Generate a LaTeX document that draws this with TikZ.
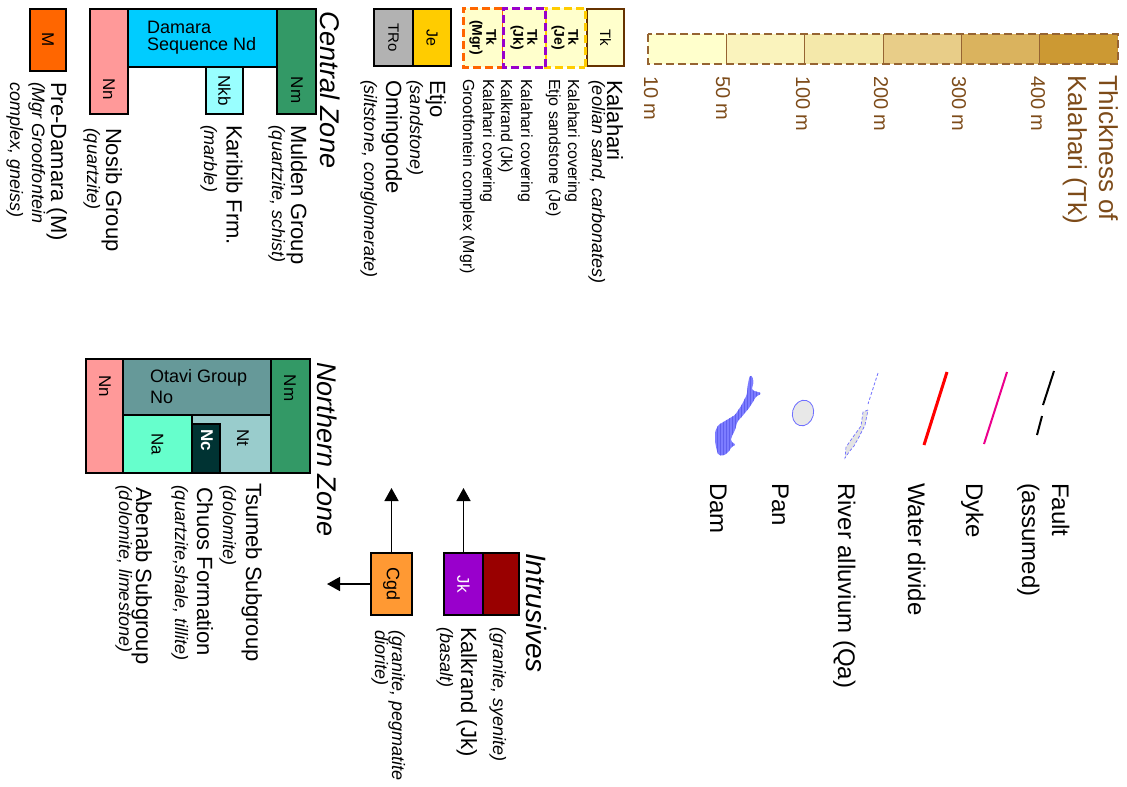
\documentclass[tikz,border=0pt]{standalone}
\usepackage{fontspec}
\setmainfont{Liberation Sans}
\usetikzlibrary{arrows.meta,patterns}

\definecolor{kal1}{HTML}{FFFFCC}
\definecolor{kal2}{HTML}{FAF3BD}
\definecolor{kal3}{HTML}{F4E8AA}
\definecolor{kal4}{HTML}{E8CD88}
\definecolor{kal5}{HTML}{DAB35E}
\definecolor{kal6}{HTML}{CC9933}
\definecolor{kbrown}{RGB}{125,75,25}
\definecolor{barline}{RGB}{150,100,50}
\definecolor{tkedge}{HTML}{663300}
\definecolor{coverJe}{HTML}{FFCC00}
\definecolor{coverJk}{HTML}{9900CC}
\definecolor{coverMgr}{HTML}{FF6600}
\definecolor{cJe}{HTML}{FFCC00}
\definecolor{cTRo}{HTML}{B2B2B2}
\definecolor{cM}{HTML}{FF6600}
\definecolor{cNn}{HTML}{FF9999}
\definecolor{cNd}{HTML}{00CCFF}
\definecolor{cNkb}{HTML}{99FFFF}
\definecolor{cNm}{HTML}{339966}
\definecolor{cCgd}{HTML}{FF9933}
\definecolor{cJk}{HTML}{9900CC}
\definecolor{cSy}{HTML}{990000}
\definecolor{cNo}{HTML}{669999}
\definecolor{cNa}{HTML}{66FFCC}
\definecolor{cNt}{HTML}{99CCCC}
\definecolor{cNc}{HTML}{003333}
\definecolor{water}{HTML}{6F6FFF}
\definecolor{damfill}{HTML}{7C7CFF}
\definecolor{damhatch}{HTML}{5F5FEE}

\begin{document}
\begin{tikzpicture}[x=1pt, y=-1pt,
  lbl/.style={rotate=-90, anchor=base west, inner sep=0pt, outer sep=0pt,
    font=\fontsize{22}{26}\selectfont},
  note/.style={lbl, font=\fontsize{18}{21}\selectfont\itshape},
  fine/.style={lbl, font=\fontsize{16}{19}\selectfont},
  legtext/.style={lbl, font=\fontsize{24}{28}\selectfont},
  zone/.style={lbl, font=\fontsize{27}{32}\selectfont\itshape},
  scaletext/.style={lbl, text=kbrown, font=\fontsize{20}{24}\selectfont},
  flatbox/.style={draw, line width=1.5pt, inner sep=0pt, outer sep=0pt},
  unit/.style={flatbox, rotate=-90, font=\fontsize{17}{19}\selectfont},
  tag/.style={rotate=-90, inner sep=0pt, font=\fontsize{17}{19}\selectfont},
  flattext/.style={anchor=base west, inner sep=0pt, font=\fontsize{18}{21}\selectfont},
  cover/.style={unit, fill=kal1, line width=3pt, dash pattern=on 8pt off 4pt,
    align=center, font=\fontsize{14}{14}\selectfont\bfseries},
  arr/.style={line width=1.5pt, -{Triangle[length=13pt, width=14pt]}},
]
\useasboundingbox (0,0) rectangle (1127,787);

% ---------- thickness scale of the Kalahari cover ----------
\foreach \i/\c in {0/kal1,1/kal2,2/kal3,3/kal4,4/kal5,5/kal6}
  \fill[\c] ({648+78.33*\i},34) rectangle ({648+78.33*(\i+1)},64);
\foreach \i in {1,...,5}
  \draw[barline, line width=0.8pt] ({648+78.33*\i},34) -- ({648+78.33*\i},64);
\draw[barline, line width=2pt, dash pattern=on 8pt off 4pt] (648,34) rectangle (1118,64);

\node[scaletext] (s10)  at (644,76) {10 m};
\node[scaletext] (s50)  at (716,76) {50 m};
\node[scaletext] (s100) at (796,76) {100 m};
\node[scaletext] (s200) at (874,76) {200 m};
\node[scaletext] (s300) at (952,76) {300 m};
\node[scaletext] (s400) at (1031,76) {400 m};
\node[lbl, text=kbrown, font=\fontsize{26}{30}\selectfont] (ttlA) at (1099,75) {Thickness of};
\node[lbl, text=kbrown, font=\fontsize{26}{30}\selectfont] (ttlB) at (1068,75) {Kalahari (Tk)};

% ---------- Kalahari and its coverings ----------
\node[unit, fill=kal1, draw=tkedge, minimum width=57pt, minimum height=37pt,
  font=\fontsize{15}{17}\selectfont] (tk) at (605.5,37.5) {Tk};
\node[cover, draw=coverJe, minimum width=59pt, minimum height=40pt] (tkje) at (565,37.5) {Tk\\(Je)};
\node[cover, draw=coverMgr, minimum width=59pt, minimum height=40pt] (tkmgr) at (483,37.5) {Tk\\(Mgr)};
\node[cover, draw=coverJk, minimum width=59pt, minimum height=42pt] (tkjk) at (524,37.5) {Tk\\(Jk)};

\node[lbl]  (kal)    at (607,80) {Kalahari};
\node[note] (kalN)   at (592,80) {(eolian sand, carbonates)};
\node[fine] (covA1)  at (568,79) {Kalahari covering};
\node[fine] (covA2)  at (549,79) {Etjo sandstone (Je)};
\node[fine] (covB1)  at (521,79) {Kalahari covering};
\node[fine] (covB2)  at (501,79) {Kalkrand (Jk)};
\node[fine] (covC1)  at (483,79) {Kalahari covering};
\node[fine] (covC2)  at (463,79) {Grootfontein complex (Mgr)};

% ---------- Karoo ----------
\node[unit, fill=cJe, minimum width=57pt, minimum height=38pt, font=\fontsize{16}{18}\selectfont] (je) at (432,37.5) {Je};
\node[unit, fill=cTRo, minimum width=57pt, minimum height=39pt, font=\fontsize{15}{17}\selectfont] (tro) at (393.5,37.5) {TRo};
\node[lbl]  (etjo)  at (430,80) {Etjo};
\node[note] (etjoN) at (410,80) {(sandstone)};
\node[lbl]  (omi)   at (386,80) {Omingonde};
\node[note] (omiN)  at (364,80) {(siltstone, conglomerate)};

% ---------- Central Zone ----------
\node[zone] (cz) at (320,12) {Central Zone};
\node[unit, fill=cNm, minimum width=105pt, minimum height=39pt] (nmc) at (296.5,61.5) {};
\node[tag] (nmcT) at (297,90) {Nm};
\node[flatbox, fill=cNd, minimum width=149pt, minimum height=58pt] (nd) at (202.5,38) {};
\node[flattext] (ndA) at (147,33) {Damara};
\node[flattext] (ndB) at (147,50) {Sequence Nd};
\node[unit, fill=cNkb, minimum width=47pt, minimum height=37pt] (nkb) at (224.5,90.5) {Nkb};
\node[unit, fill=cNn, minimum width=105pt, minimum height=38pt] (nnc) at (109,61.5) {};
\node[tag] (nncT) at (109,89) {Nn};
\node[unit, fill=cM, minimum width=62pt, minimum height=36pt] (m) at (48,40) {M};

\node[lbl]  (mul)   at (291,125) {Mulden Group};
\node[note] (mulN)  at (272,125) {(quartzite, schist)};
\node[lbl]  (kar)   at (226.5,125) {Karibib Frm.};
\node[note] (karN)  at (204,125) {(marble)};
\node[lbl]  (nos)   at (106,128) {Nosib Group};
\node[note] (nosN)  at (87,128) {(quartzite)};
\node[lbl]  (pre)   at (51,82) {Pre-Damara (M)};
\node[note] (preN1) at (32,82) {(Mgr Grootfontein};
\node[note] (preN2) at (10,82) {complex, gneiss)};

% ---------- map line symbols ----------
\draw[line width=2pt] (1054,371) -- (1043,405);
\draw[line width=2pt] (1042,416) -- (1037,435);
\draw[magenta, line width=2pt] (1007,372) -- (984,444);
\draw[red, line width=3pt] (947,372) -- (924,445);
\draw[water, line width=0.8pt, dash pattern=on 3pt off 2pt] (878,373) -- (868,404);
\draw[water, line width=0.7pt, dash pattern=on 3pt off 2pt, fill=gray!22]
  (868,410) -- (863,412) -- (861,426) -- (853,437) -- (846,447) -- (845,458)
  -- (849,452) -- (854,446) -- (859,437) -- (865,425) -- cycle;
\draw[water, line width=0.8pt, fill=gray!18, rotate around={-15:(803,413)}]
  (803,413) ellipse [x radius=10.5pt, y radius=13pt];
\path[fill=damfill, postaction={pattern=vertical lines, pattern color=damhatch}, rounded corners=1.5pt]
  (750,375) -- (752.7,376.7) -- (753.3,383.3) -- (751.7,390) -- (761.7,393.3)
  -- (756,396.7) -- (750,406.7) -- (743.3,415) -- (737.3,421.7) -- (735,430)
  -- (731.7,436.7) -- (730.7,441) -- (736,445) -- (731.7,446.7) -- (728.3,452.3)
  -- (723.3,455.7) -- (718.3,455) -- (716.7,450) -- (715,441.7) -- (715,431.7)
  -- (718.3,425) -- (726.7,420) -- (735,415) -- (741.7,405) -- (746.7,395)
  -- (748.3,381.7) -- cycle;

\node[legtext] (fault)  at (1052,483) {Fault};
\node[legtext] (faultB) at (1022,483) {(assumed)};
\node[legtext] (dyke)   at (966,483) {Dyke};
\node[legtext] (wdiv)   at (908,483) {Water divide};
\node[legtext] (alluv)  at (838,483) {River alluvium (Qa)};
\node[legtext] (pan)    at (772,483) {Pan};
\node[legtext] (dam)    at (710,483) {Dam};

% ---------- Intrusives ----------
\node[zone, font=\fontsize{28}{32}\selectfont\itshape] (intr) at (526,553) {Intrusives};
\node[unit, fill=cSy, minimum width=62pt, minimum height=36pt] (sy) at (501,584) {};
\node[unit, fill=cJk, minimum width=62pt, minimum height=39pt, text=white] (jk) at (463.5,584) {Jk};
\node[unit, fill=cCgd, minimum width=62pt, minimum height=41pt, font=\fontsize{18}{20}\selectfont] (cgd) at (391.5,584) {Cgd};
\coordinate (jkup) at (463.5,488);
\coordinate (cgdup) at (391.5,488);
\coordinate (cgdside) at (327,584);
\draw[arr] (jk.west) -- (jkup);
\draw[arr] (cgd.west) -- (cgdup);
\draw[arr] (cgd.south) -- (cgdside);

\node[note] (syN)  at (493,627) {(granite, syenite)};
\node[lbl]  (kalk) at (461,627) {Kalkrand (Jk)};
\node[note] (kalkN) at (440,627) {(basalt)};
\node[note] (cgdN1) at (392,630) {(granite, pegmatite};
\node[note] (cgdN2) at (375,630) {diorite)};

% ---------- Northern Zone ----------
\node[zone] (nz) at (317,362) {Northern Zone};
\node[unit, fill=cNm, minimum width=114pt, minimum height=39pt] (nmn) at (290.5,416) {};
\node[tag] (nmnT) at (290,388) {Nm};
\node[flatbox, fill=cNo, minimum width=148pt, minimum height=56pt] (no) at (197,387) {};
\node[flattext] (noA) at (150,382) {Otavi Group};
\node[flattext] (noB) at (150,403) {No};
\node[unit, fill=cNt, minimum width=58pt, minimum height=79pt] (nt) at (231.5,444) {};
\node[tag] (ntT) at (243,438) {Nt};
\node[unit, fill=cNa, minimum width=58pt, minimum height=69pt] (na) at (157.5,444) {Na};
\node[unit, fill=cNc, minimum width=49pt, minimum height=28pt] (nc) at (206,448.5) {};
\node[tag, text=white, font=\fontsize{17}{19}\selectfont\bfseries] (ncT) at (207,440) {Nc};
\node[unit, fill=cNn, minimum width=114pt, minimum height=37pt] (nnn) at (104.5,416) {};
\node[tag] (nnnT) at (105,386) {Nn};

\node[lbl]  (tsu)   at (246,483) {Tsumeb Subgroup};
\node[note] (tsuN)  at (223,485) {(dolomite)};
\node[lbl]  (chu)   at (197,487) {Chuos Formation};
\node[note] (chuN)  at (175,485) {(quartzite,shale, tillite)};
\node[lbl]  (abe)   at (136,487) {Abenab Subgroup};
\node[note] (abeN)  at (119,485) {(dolomite, limestone)};
\end{tikzpicture}
\end{document}
